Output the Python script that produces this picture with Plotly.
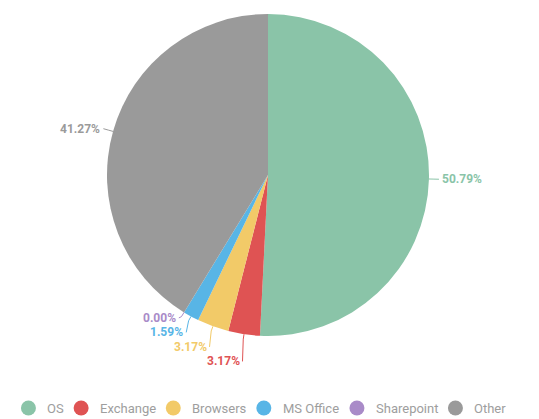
import math
import plotly.graph_objects as go

labels = ["OS", "Exchange", "Browsers", "MS Office", "Sharepoint", "Other"]
values = [32, 2, 2, 1, 0, 26]
colors = ["#8ac4a8", "#df5353", "#f2ca68", "#58b5e6", "#a98bc8", "#9a9a9a"]

W, H = 539, 419
CX, CY, R = 268, 175, 161   # pie centre / radius in pixels

def px2paper(x, y):
    return x / W, 1 - y / H

total = sum(values)
pct_text = ["%.2f%%" % (v / total * 100) for v in values]

fig = go.Figure()
x0, y1 = px2paper(CX - R, CY - R)
x1, y0 = px2paper(CX + R, CY + R)
fig.add_trace(go.Pie(
    labels=labels, values=values, sort=False, direction="clockwise", rotation=0,
    marker=dict(colors=colors, line=dict(width=0)),
    textinfo="none", showlegend=False, hoverinfo="label+percent",
    domain=dict(x=[x0, x1], y=[y0, y1]),
))

# ---- outside labels with leader lines (computed from the values) ----
D = 10
GAP = 14.5
items = []
cum = 0
for i, v in enumerate(values):
    mid = (cum + v / 2) / total
    cum += v
    th = 2 * math.pi * mid
    s, c = math.sin(th), math.cos(th)
    items.append(dict(i=i, s=s, c=c,
                      ex=CX + R * s, ey=CY - R * c,
                      kx=CX + (R + 5) * s, ky=CY - (R + 5) * c,
                      lx=CX + (R + D) * s, ly=CY - (R + D) * c,
                      right=s >= 0))
for side in (True, False):
    grp = sorted([it for it in items if it["right"] == side], key=lambda it: it["ly"])
    prev = None
    for it in grp:
        if prev is not None and it["ly"] < prev + GAP:
            it["ly"] = prev + GAP
        prev = it["ly"]
    # re-centre crowded labels slightly upward so the group sits around its slices
    moved = [it for it in grp if abs(it["ly"] - (CY - (R + D) * it["c"])) > 0.1]
    if moved:
        for it in grp:
            if it in moved or any(abs(it["ly"] - m["ly"]) < GAP * 1.01 for m in moved):
                it["ly"] -= 3

for it in items:
    i = it["i"]
    col = colors[i]
    ax, ay = px2paper(it["lx"], it["ly"])
    fig.add_annotation(x=ax, y=ay, xref="paper", yref="paper", text=pct_text[i],
                       showarrow=False, xanchor="left" if it["right"] else "right",
                       yanchor="middle", xshift=1 if it["right"] else -1,
                       font=dict(family="Roboto", size=12, color=col, weight="bold"))
    pts = [(it["ex"], it["ey"]), (it["kx"], it["ky"]), (it["lx"], it["ly"])]
    path = "M " + " L ".join("%.4f,%.4f" % px2paper(x, y) for x, y in pts)
    fig.add_shape(type="path", path=path, xref="paper", yref="paper",
                  line=dict(color=col, width=1), fillcolor="rgba(0,0,0,0)")

# ---- legend (circle markers, single row) ----
em = {'O': .688, 'S': .594, 'E': .567, 'x': .496, 'c': .523, 'h': .551, 'a': .543,
      'n': .551, 'g': .561, 'e': .529, 'B': .623, 'r': .338, 'o': .570, 'w': .766,
      's': .516, 'M': .872, ' ': .248, 'f': .348, 'i': .243, 'p': .561, 't': .327}
FS = 13
tw = [sum(em.get(ch, .55) for ch in lab) * FS for lab in labels]
G1, G2, RAD = 18, 18, 7.5
span = RAD + sum(tw) + G1 * len(labels) + G2 * (len(labels) - 1)
LEG_CENTER, LEG_Y = 263, 408
cxs = []
x = LEG_CENTER - span / 2 + RAD
for w in tw:
    cxs.append(x)
    x += G1 + w + G2
fig.add_trace(go.Scatter(x=cxs, y=[LEG_Y] * len(labels), mode="markers",
                         marker=dict(symbol="circle", size=15, color=colors),
                         showlegend=False, hoverinfo="skip", xaxis="x", yaxis="y"))
for cx, lab in zip(cxs, labels):
    fig.add_annotation(x=cx + G1 - 1, y=LEG_Y, xref="x", yref="y", text=lab,
                       showarrow=False, xanchor="left", yanchor="middle",
                       font=dict(family="Roboto", size=FS, color="#9e9e9e"))

fig.update_layout(
    width=W, height=H,
    margin=dict(l=0, r=0, t=0, b=0),
    paper_bgcolor="white", plot_bgcolor="rgba(0,0,0,0)",
    xaxis=dict(visible=False, range=[0, W], fixedrange=True),
    yaxis=dict(visible=False, range=[H, 0], fixedrange=True),
    showlegend=False,
    font=dict(family="Roboto", color="#999999", size=13),
)
fig.write_html("out.html", config={"displayModeBar": False},
               post_script="document.body.style.margin='0px';document.body.style.overflow='hidden';")
